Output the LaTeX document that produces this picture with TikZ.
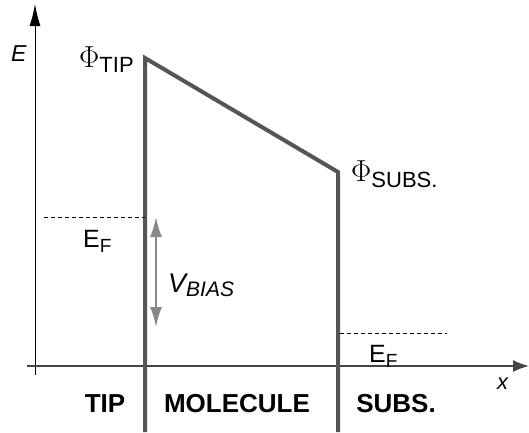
\documentclass[tikz,border=0pt]{standalone}
\usepackage{fontspec}
\setmainfont{Liberation Sans}
\setsansfont{Liberation Sans}
\usetikzlibrary{arrows.meta}
\definecolor{wall}{HTML}{555555}
\definecolor{axis}{HTML}{444444}
\definecolor{bias}{HTML}{888888}
\newcommand{\bigphi}{\scalebox{1.22}{\fontsize{24}{24}\selectfont$\Phi$}}
\tikzset{
  lbl/.style={inner sep=0pt, anchor=base west},
  region/.style={inner sep=0pt, anchor=base, font=\fontsize{26}{26}\selectfont\bfseries},
  wallline/.style={draw=wall, line width=4pt, line join=miter},
  fermi/.style={draw=black, line width=0.9pt, dash pattern=on 4pt off 3pt},
}
\begin{document}
\begin{tikzpicture}[x=1pt,y=-1pt]
\useasboundingbox (0,0) rectangle (529,432);
% axes
\coordinate (yb) at (35,375);
\coordinate (yt) at (35,4);
\coordinate (xl) at (27,366);
\coordinate (xr) at (529,366);
\draw[black, line width=1pt, -{Latex[length=22pt,width=11pt]}] (yb) -- (yt);
\draw[axis, line width=1.6pt, -{Latex[length=16pt,width=12pt]}] (xl) -- (xr);
% barrier
\coordinate (tb) at (145,432);
\coordinate (tt) at (145,58);
\coordinate (st) at (338,172);
\coordinate (sb) at (338,432);
\draw[wallline] (tb) -- (tt) -- (st) -- (sb);
% Fermi levels
\coordinate (fl1) at (44,217);
\coordinate (fl2) at (145,217);
\coordinate (fr1) at (340,333);
\coordinate (fr2) at (447,333);
\draw[fermi] (fl1) -- (fl2);
\draw[fermi] (fr1) -- (fr2);
% bias arrow
\coordinate (b1) at (156,217);
\coordinate (b2) at (156,327);
\draw[bias, line width=2pt, {Latex[length=20pt,width=12pt]}-{Latex[length=20pt,width=12pt]}] (b1) -- (b2);
% labels
\node[lbl, font=\fontsize{23}{23}\selectfont\itshape] (E) at (11,61) {E};
\node[lbl, font=\fontsize{22}{22}\selectfont\itshape] (x) at (497,389) {x};
\node[lbl] (phitip) at (79,67) {\bigphi\fontsize{22}{22}\selectfont\raisebox{-5pt}{TIP}};
\node[lbl] (phisubs) at (351,181) {\bigphi\fontsize{22}{22}\selectfont\raisebox{-6pt}{SUBS.}};
\node[lbl] (efl) at (83,247) {\fontsize{25}{25}\selectfont E\fontsize{19}{19}\selectfont\raisebox{-5pt}{F}};
\node[lbl] (efr) at (369,362) {\fontsize{25}{25}\selectfont E\fontsize{19}{19}\selectfont\raisebox{-5pt}{F}};
\node[lbl] (vb) at (168,292) {\itshape\fontsize{27}{27}\selectfont V\fontsize{21}{21}\selectfont\raisebox{-4pt}{BIAS}};
\node[region] (tip) at (105,412) {TIP};
\node[region] (mol) at (237,412) {MOLECULE};
\node[region] (sub) at (396,412) {SUBS.};
\end{tikzpicture}
\end{document}
